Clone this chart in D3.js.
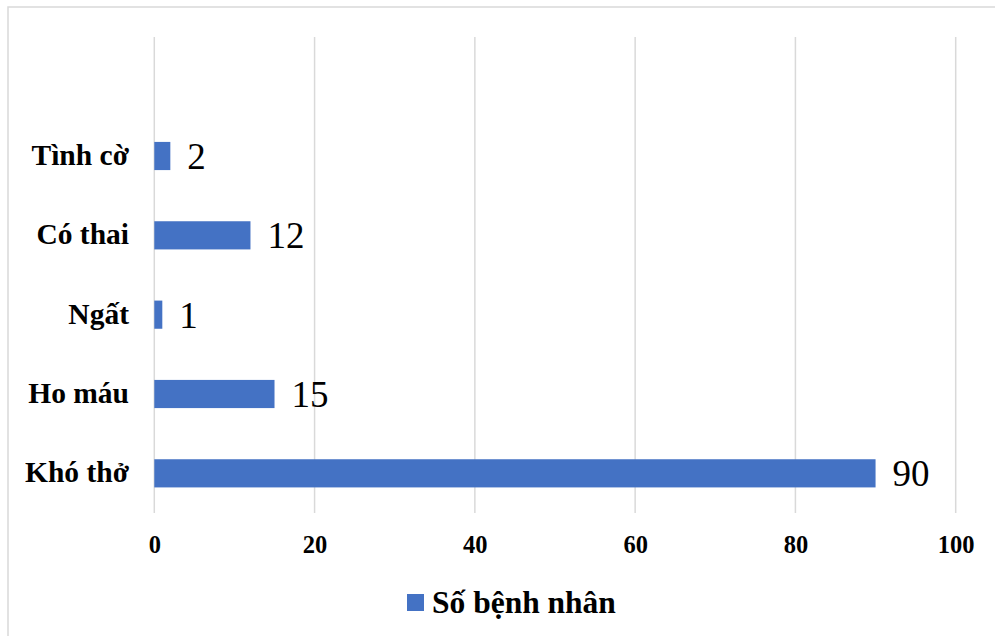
<!DOCTYPE html>
<html>
<head>
<meta charset="utf-8">
<script src="https://cdn.jsdelivr.net/npm/d3@7"></script>
<style>
body { margin: 0; background: #fff; }
svg text { font-family: "Liberation Serif", "Times New Roman", "DejaVu Serif", serif; }
</style>
</head>
<body>
<svg id="chart" width="995" height="636"></svg>
<script>
// categories listed bottom to top, as in the picture
var categories = ["Khó thở", "Ho máu", "Ngất", "Có thai", "Tình cờ"];
var values = [90, 15, 1, 12, 2];
var xTicks = [0, 20, 40, 60, 80, 100];
var seriesName = "Số bệnh nhân";

var barColor = "#4472C4";
var gridColor = "#d9d9d9";

var svg = d3.select("#chart");

// outer frame (runs off the right and bottom edge)
svg.append("rect")
	.attr("x", 8).attr("y", 7)
	.attr("width", 1000).attr("height", 700)
	.attr("fill", "none")
	.attr("stroke", gridColor)
	.attr("stroke-width", 1.5);

var plotLeft = 154.3, plotRight = 955.7, plotTop = 37, plotBottom = 513;
// the plot holds six slots, the top one is empty
var step = (plotBottom - plotTop) / 6;

var xScale = d3.scaleLinear()
	.domain([0, 100])
	.range([plotLeft, plotRight]);

var yScale = d3.scaleBand()
	.domain(categories)
	.range([plotBottom, plotBottom - step * categories.length])
	.paddingInner(0.645)
	.paddingOuter(0.3225);

function yMid(cat) {
	return yScale(cat) + yScale.bandwidth() / 2;
}

// gridlines
svg.append("g")
	.selectAll("line")
	.data(xTicks)
	.enter()
	.append("line")
	.attr("x1", function(d) { return xScale(d); })
	.attr("x2", function(d) { return xScale(d); })
	.attr("y1", plotTop)
	.attr("y2", plotBottom)
	.attr("stroke", gridColor)
	.attr("stroke-width", 1.5);

// x tick labels
var xax = svg.append("g")
	.attr("transform", "translate(0," + plotBottom + ")")
	.call(d3.axisBottom(xScale).tickValues(xTicks).tickSize(0).tickPadding(40));
xax.attr("font-family", null);
xax.select(".domain").remove();
xax.selectAll("text")
	.attr("dy", 0)
	.attr("fill", "#000")
	.attr("font-weight", "bold")
	.attr("font-size", "24.5px");

// bars
svg.append("g")
	.selectAll("rect")
	.data(values)
	.enter()
	.append("rect")
	.attr("x", xScale(0))
	.attr("y", function(d, i) { return yScale(categories[i]); })
	.attr("width", function(d) { return xScale(d) - xScale(0); })
	.attr("height", yScale.bandwidth())
	.attr("fill", barColor);

// category labels
svg.append("g")
	.selectAll("text")
	.data(categories)
	.enter()
	.append("text")
	.attr("x", 129)
	.attr("y", function(d) { return yMid(d) + 9; })
	.attr("text-anchor", "end")
	.attr("font-weight", "bold")
	.attr("font-size", "29.5px")
	.text(function(d) { return d; });

// value labels
svg.append("g")
	.selectAll("text")
	.data(values)
	.enter()
	.append("text")
	.attr("x", function(d) { return xScale(d) + 17; })
	.attr("y", function(d, i) { return yMid(categories[i]) + 13; })
	.attr("font-size", "37px")
	.text(function(d) { return d; });

// legend
var legend = svg.append("g").attr("transform", "translate(407,594)");
legend.append("rect")
	.attr("width", 17).attr("height", 17)
	.attr("fill", barColor);
legend.append("text")
	.attr("x", 25)
	.attr("y", 19)
	.attr("font-weight", "bold")
	.attr("font-size", "31.5px")
	.text(seriesName);
</script>
</body>
</html>
